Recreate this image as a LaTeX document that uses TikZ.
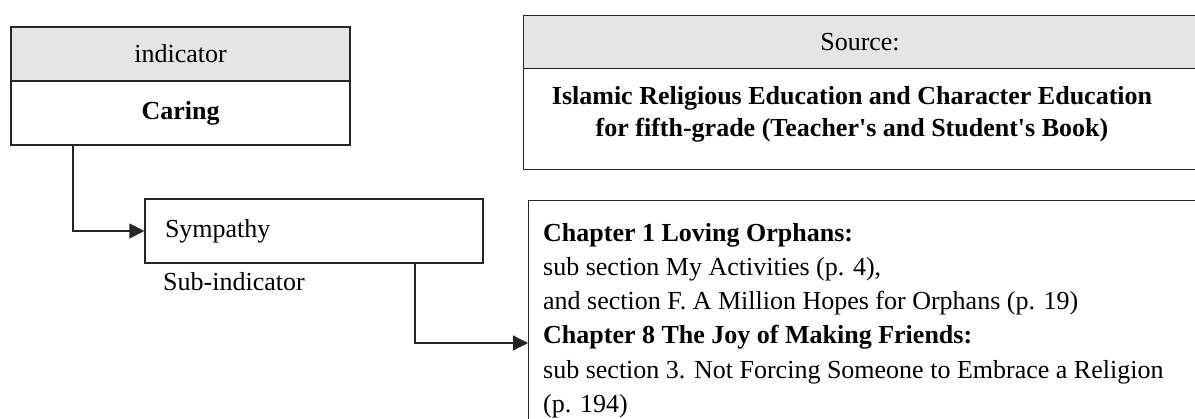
\documentclass[tikz,border=0pt]{standalone}
\usepackage{fontspec}
\setmainfont{Liberation Serif}
\usetikzlibrary{arrows.meta}
\definecolor{headgray}{HTML}{E5E5E5}
\definecolor{linegray}{HTML}{262626}

\begin{document}
\begin{tikzpicture}
[x=1pt, y=-1pt, every node/.style={inner sep=0pt, font=\fontsize{26}{34.2}\selectfont},
 box/.style={rectangle, draw=linegray, line width=1.3pt},
 conn/.style={line width=1.3pt, draw=linegray, -{Triangle[length=15pt,width=15pt]}}]
\useasboundingbox (0,0) rectangle (1195,419);
\clip (0,0) rectangle (1195,419);
% indicator block
\node (indhead) [box, fill=headgray, minimum width=339pt, minimum height=54pt] at (180.5,54) {indicator};
\node (caring) [box, minimum width=339pt, minimum height=64pt] at (180.5,113) {\textbf{Caring}};
% sub-indicator
\node (sympbox) [box, minimum width=338pt, minimum height=64pt, text width=298pt, align=left] at (314,231) {Sympathy};
\node (sublabel) [anchor=west] at (163,282) {Sub-indicator};
% source block
\node (srchead) [box, fill=headgray, anchor=north west, minimum width=800pt, minimum height=53pt] at (523,15) {};
\node (srcbody) [box, anchor=north west, minimum width=800pt, minimum height=101pt] at (523,68) {};
\node (srclabel) at (860,42) {Source:};
\node (srcbook) [align=center, font=\fontsize{26}{32}\selectfont\bfseries] at (852,114) {Islamic Religious Education and Character Education\\for fifth-grade (Teacher\textquotesingle s and Student\textquotesingle s Book)};
% chapters
\node (chapbox) [box, anchor=north west, minimum width=800pt, minimum height=300pt] at (528,200) {};
\node (chaptext) [anchor=north west, align=left] at (543,223) {\textbf{Chapter 1 Loving Orphans:}\\
sub section My Activities (p. 4),\\
and section F. A Million Hopes for Orphans (p. 19)\\
\textbf{Chapter 8 The Joy of Making Friends:}\\
sub section 3. Not Forcing Someone to Embrace a Religion\\
(p. 194)};
% connectors
\coordinate (indout) at (73,145);
\coordinate (sympout) at (415,263);
\coordinate (chapin) at (528,343);
\draw [conn] (indout) |- (sympbox.west);
\draw [conn] (sympout) |- (chapin);
\end{tikzpicture}
\end{document}
